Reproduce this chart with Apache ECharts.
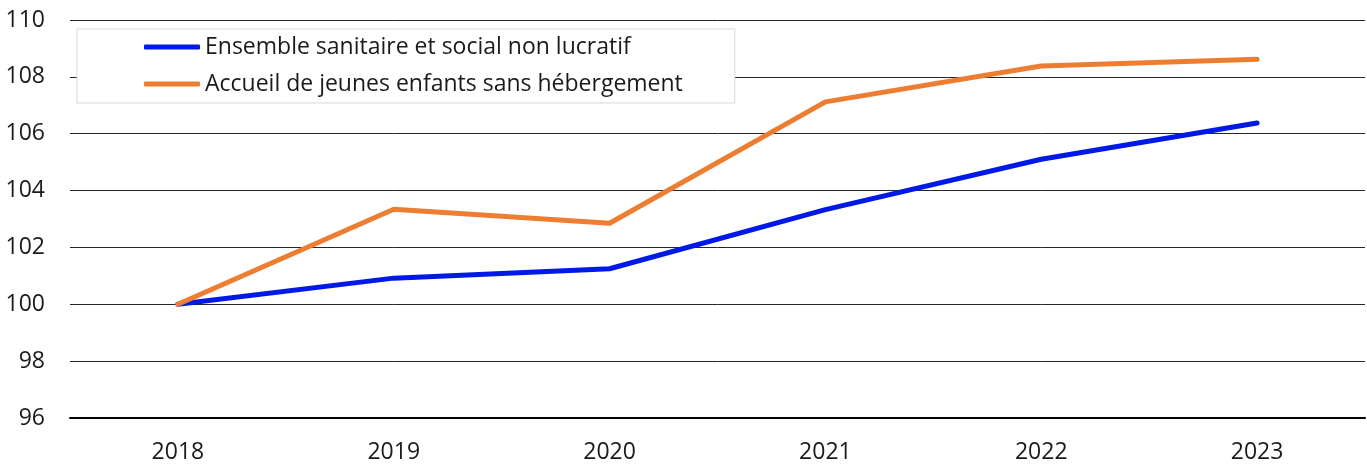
<!DOCTYPE html>
<html>
<head>
<meta charset="utf-8">
<script src="https://cdn.jsdelivr.net/npm/echarts@6/dist/echarts.min.js"></script>
<style>
  html, body { margin: 0; padding: 0; background: #fff; }
  #chart { width: 1367px; height: 465px; }
</style>
</head>
<body>
<div id="chart"></div>
<script>
var years = ["2018", "2019", "2020", "2021", "2022", "2023"];
var ensemble = [100, 100.92, 101.25, 103.33, 105.1, 106.38];
var accueil = [100, 103.34, 102.85, 107.12, 108.38, 108.62];
var seriesNames = ["Ensemble sanitaire et social non lucratif", "Accueil de jeunes enfants sans hébergement"];

var chart = echarts.init(document.getElementById("chart"));
var font = "Open Sans";
var option = {
  animation: false,
  grid: { left: 70, right: 2, top: 20, bottom: 47 },
  legend: {
    orient: "vertical",
    left: 77,
    top: 29,
    padding: [4, 52, 5, 67],
    itemGap: 9,
    itemWidth: 56,
    itemHeight: 5,
    icon: "roundRect",
    backgroundColor: "#fff",
    borderColor: "#d9d9d9",
    borderWidth: 1,
    textStyle: { fontFamily: font, fontSize: 23, color: "#1a1a1a", lineHeight: 28 },
    data: seriesNames
  },
  xAxis: {
    type: "category",
    data: years,
    axisLine: { show: true, lineStyle: { color: "#000", width: 2 } },
    axisTick: { show: false },
    axisLabel: { fontFamily: font, fontSize: 23, color: "#1a1a1a", margin: 23 }
  },
  yAxis: {
    type: "value",
    min: 96,
    max: 110,
    interval: 2,
    axisLine: { show: false },
    axisTick: { show: false },
    splitLine: { lineStyle: { color: "#262626", width: 1 } },
    axisLabel: { fontFamily: font, fontSize: 23, color: "#1a1a1a", margin: 25 }
  },
  series: [
    {
      name: seriesNames[0],
      type: "line",
      data: ensemble,
      symbol: "none",
      color: "#0019e6",
      lineStyle: { width: 5, color: "#0019e6", cap: "round" }
    },
    {
      name: seriesNames[1],
      type: "line",
      data: accueil,
      symbol: "none",
      color: "#ed7d31",
      lineStyle: { width: 5, color: "#ed7d31", cap: "round" }
    }
  ]
};
chart.setOption(option);
</script>
</body>
</html>
